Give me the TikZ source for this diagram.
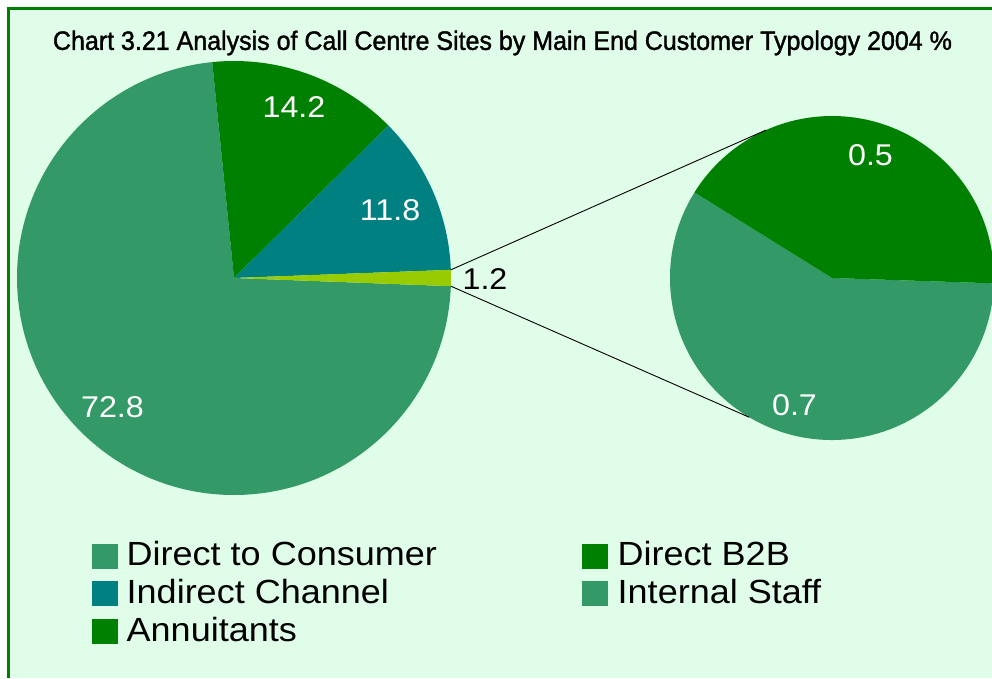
\documentclass[tikz,border=0pt]{standalone}
\usepackage{fontspec}
\setmainfont{Liberation Sans}
\newfontfamily\titlefont[FakeBold=1.5]{Liberation Sans}
\newfontfamily\widefont[FakeStretch=1.075]{Liberation Sans}
\usepackage{graphicx}
\usetikzlibrary{calc}
\definecolor{chartbg}{RGB}{224,253,234}
\definecolor{frame}{RGB}{0,128,0}
\definecolor{consumer}{RGB}{51,153,102}
\definecolor{btob}{RGB}{0,128,0}
\definecolor{indirect}{RGB}{0,128,128}
\definecolor{other}{RGB}{153,204,0}
\tikzset{
  slicelabel/.style={text=white, font=\widefont\fontsize{30}{36}\selectfont, inner sep=0pt},
  darklabel/.style={text=black, font=\widefont\fontsize{30}{36}\selectfont, inner sep=0pt},
  keybox/.style={minimum width=26pt, minimum height=25pt, inner sep=0pt},
  keytext/.style={anchor=base west, font=\widefont\fontsize{33.5}{40}\selectfont, inner sep=0pt},
  joinline/.style={black, line width=0.9pt},
}
\begin{document}
\begin{tikzpicture}[x=1pt, y=1pt]
  \useasboundingbox (0,0) rectangle (992,678);
  % page and chart area with its green frame on the top and left
  \fill[white] (0,0) rectangle (992,678);
  \fill[chartbg] (9.5,0) rectangle (992,668.5);
  \draw[frame, line width=2.2pt] (8.5,0) -- (8.5,669.5) -- (992,669.5);

  % title
  \node[inner sep=0pt] (title) at (502.5,635)
    {\resizebox{899pt}{\height}{\titlefont\fontsize{26.5}{32}\selectfont Chart 3.21 Analysis of Call Centre Sites by Main End Customer Typology 2004 \%}};

  % main pie
  \coordinate (pc) at (234,400);
  \def\rA{217}
  \fill[consumer] (pc) -- ++(95.76:\rA) arc[start angle=95.76, end angle=357.84, radius=\rA] -- cycle;
  \fill[btob] (pc) -- ++(44.64:\rA) arc[start angle=44.64, end angle=95.76, radius=\rA] -- cycle;
  \fill[indirect] (pc) -- ++(2.16:\rA) arc[start angle=2.16, end angle=44.64, radius=\rA] -- cycle;
  \fill[other] (pc) -- ++(-2.16:\rA) arc[start angle=-2.16, end angle=2.16, radius=\rA] -- cycle;

  % secondary pie splitting the small slice
  \coordinate (sc) at (832,400);
  \def\rB{162}
  \fill[consumer] (sc) -- ++(148.1:\rB) arc[start angle=148.1, end angle=358.1, radius=\rB] -- cycle;
  \fill[btob] (sc) -- ++(-1.9:\rB) arc[start angle=-1.9, end angle=148.1, radius=\rB] -- cycle;

  % lines joining the two pies
  \coordinate (ua) at ($(pc)+(2.16:\rA)$);
  \coordinate (la) at ($(pc)+(-2.16:\rA)$);
  \coordinate (ub) at ($(sc)+(114:\rB)$);
  \coordinate (lb) at ($(sc)+(239.3:\rB)$);
  \draw[joinline] (ua) -- (ub);
  \draw[joinline] (la) -- (lb);

  % slice values
  \node[slicelabel] (v142) at (294,571) {14.2};
  \node[slicelabel] (v118) at (390,468) {11.8};
  \node[slicelabel] (v728) at (112.5,271) {72.8};
  \node[darklabel] (v12) at (485,399) {1.2};
  \node[slicelabel] (v05) at (870.5,523) {0.5};
  \node[slicelabel] (v07) at (794.5,273) {0.7};

  % legend
  \node[keybox, fill=consumer] (k1) at (104.5,122) {};
  \node[keytext] (t1) at (126.5,112.3) {Direct to Consumer};
  \node[keybox, fill=indirect] (k2) at (104.5,84.2) {};
  \node[keytext] (t2) at (126.5,74.5) {Indirect Channel};
  \node[keybox, fill=btob] (k3) at (104.5,46.5) {};
  \node[keytext] (t3) at (126.5,36.8) {Annuitants};
  \node[keybox, fill=btob] (k4) at (594.5,122) {};
  \node[keytext] (t4) at (617.5,112.3) {Direct B2B};
  \node[keybox, fill=consumer] (k5) at (594.5,84.2) {};
  \node[keytext] (t5) at (617.5,74.5) {Internal Staff};
\end{tikzpicture}
\end{document}
